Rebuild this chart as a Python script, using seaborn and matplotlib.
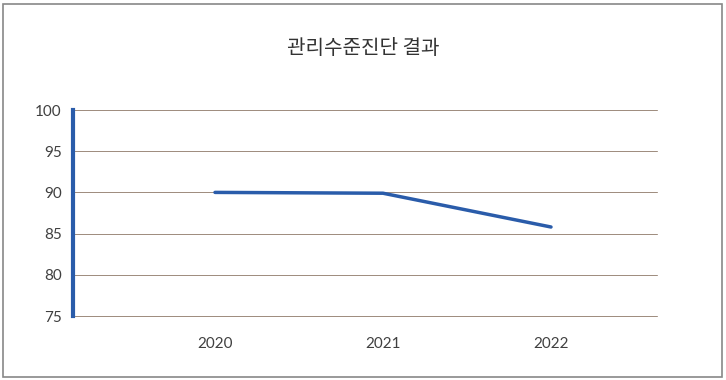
import matplotlib
matplotlib.use("Agg")
import matplotlib.pyplot as plt
import seaborn as sns
import pandas as pd
from matplotlib.patches import Rectangle

years = ["2020", "2021", "2022"]
scores = [90.0, 89.9, 85.8]
title = "관리수준진단 결과"
yticks = [75, 80, 85, 90, 95, 100]

sns.set_theme(style="white")
plt.rcParams['font.family'] = ['Lato', 'Noto Sans CJK KR', 'DejaVu Sans']

df = pd.DataFrame({"year": years, "score": scores})
df["pos"] = range(len(years))

fig = plt.figure(figsize=(7.26, 3.8), dpi=100)
ax = fig.add_axes([73/726, 1-316/380, (657-73)/726, (316-110)/380])

for y in yticks:
    ax.axhline(y, color="#A08E80", lw=0.72, zorder=1, clip_on=False, snap=True)

sns.lineplot(data=df, x="pos", y="score", ax=ax, color="#2A5CAA", lw=2.5, zorder=3)

ax.set_xlim(-(215-73)/168, 2 + (657-551)/168)
ax.set_ylim(75, 100)
ax.set_yticks(yticks)
ax.set_yticklabels([str(v) for v in yticks])
ax.set_xticks(df["pos"])
ax.set_xticklabels(years)
ax.set_xlabel("")
ax.set_ylabel("")
ax.tick_params(axis="both", length=0, labelsize=11, colors="#404040")
ax.tick_params(axis="y", pad=8)
ax.tick_params(axis="x", pad=15)
for s in ["top", "right", "bottom"]:
    ax.spines[s].set_visible(False)
ax.spines["left"].set_color("#2A5CAA")
ax.spines["left"].set_linewidth(3)
ax.spines["left"].set_zorder(4)

fig.text(363/726, 1-48/380, title, ha="center", va="center", fontsize=14.5,
         color="#333333", family=['Noto Sans CJK KR', 'DejaVu Sans'])

fig.patches.append(Rectangle((3/726, 3/380), 719/726, 373/380, transform=fig.transFigure,
                             fill=False, edgecolor="#888888", lw=1.2))

fig.savefig("out.png", dpi=100)
